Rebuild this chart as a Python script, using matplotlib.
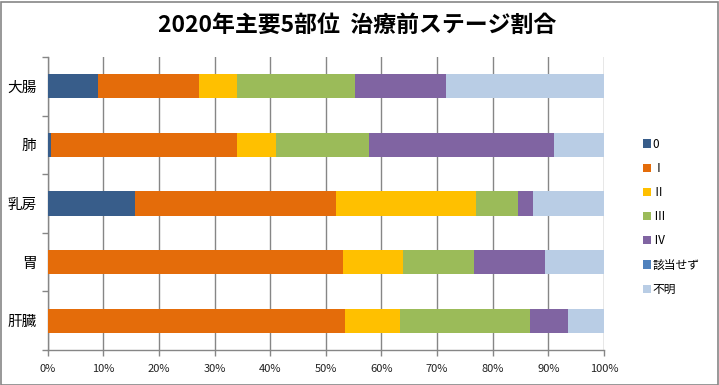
import matplotlib
matplotlib.use("Agg")
import matplotlib.pyplot as plt
import numpy as np

plt.rcParams['font.family'] = ['Noto Sans CJK JP', 'DejaVu Sans']

sites = ["大腸", "肺", "乳房", "胃", "肝臓"]
stages = ["0", "Ⅰ", "Ⅱ", "Ⅲ", "Ⅳ", "該当せず", "不明"]
colors = ["#385D8A", "#E46C0A", "#FFC000", "#9BBB59", "#8064A2", "#4F81BD", "#B9CDE5"]

s0 = [9.0, 0.6, 15.7, 0.0, 0.0]
s1 = [18.2, 33.4, 36.1, 53.1, 53.4]
s2 = [6.8, 7.0, 25.2, 10.7, 9.9]
s3 = [21.2, 16.7, 7.5, 12.8, 23.4]
s4 = [16.4, 33.4, 2.7, 12.8, 6.8]
s_na = [0.0, 0.0, 0.0, 0.0, 0.0]
s_unk = [28.4, 8.9, 12.8, 10.6, 6.5]
series = [s0, s1, s2, s3, s4, s_na, s_unk]

W, H = 719, 385
fig = plt.figure(figsize=(W / 100, H / 100), dpi=100)
ax = fig.add_axes([47.7 / W, 1 - 350 / H, (604 - 47.7) / W, (350 - 57) / H])

y = np.arange(len(sites))
left = np.zeros(len(sites))
handles = []
for vals, c, lab in zip(series, colors, stages):
    v = np.array(vals) / 100.0
    b = ax.barh(y, v, left=left, height=0.41, color=c, label=lab, linewidth=0, zorder=3)
    handles.append(b)
    left += v

ax.set_xlim(0, 1)
ax.set_ylim(len(sites) - 0.5, -0.5)
ax.set_xticks(np.linspace(0, 1, 11))
ax.set_xticklabels([f"{i*10}%" for i in range(11)], fontsize=8, color="#222222")
ax.set_yticks(y)
ax.set_yticklabels(sites, fontsize=10.5)
ax.set_yticks(np.arange(-0.5, len(sites)), minor=True)
ax.tick_params(axis='y', which='major', length=0, pad=8)
ax.tick_params(axis='y', which='minor', length=4, color="#868686", width=1, direction='out')
ax.tick_params(axis='x', length=4, color="#868686", width=1, direction='out', pad=6)
ax.grid(axis='x', color="#868686", linewidth=1, zorder=0)
for s in ['top', 'right']:
    ax.spines[s].set_visible(False)
for s in ['left', 'bottom']:
    ax.spines[s].set_color("#868686")
    ax.spines[s].set_linewidth(1)

fig.text(357 / W, 1 - 25 / H, "2020年主要5部位  治療前ステージ割合", ha='center', va='center',
         fontsize=16.5, fontweight='bold')

leg = fig.legend(handles=handles, labels=stages, loc='upper left',
                 bbox_to_anchor=(632 / W, 1 - 127 / H), frameon=False,
                 fontsize=8.5, handlelength=0.7, handleheight=0.7, handletextpad=0.15,
                 labelspacing=0.95)

# outer border
fig.patches.append(plt.Rectangle((0.5 / W, 0.5 / H), 1 - 2 / W, 1 - 2 / H, transform=fig.transFigure,
                                 fill=False, edgecolor="#868686", linewidth=1.2))

fig.savefig("out.png", dpi=100)
